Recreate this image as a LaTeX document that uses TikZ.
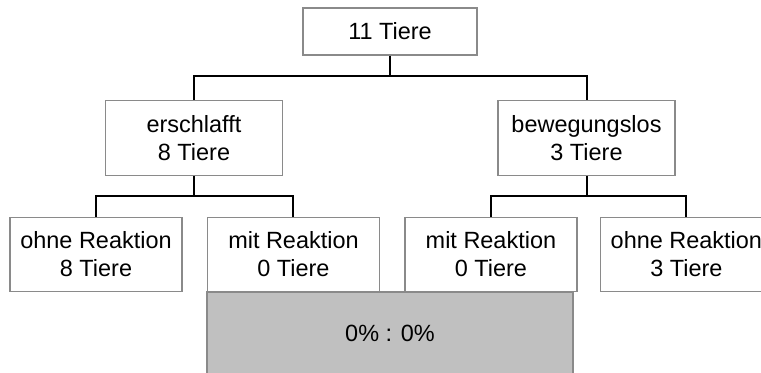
\documentclass[tikz,border=0pt]{standalone}
\usepackage{fontspec}
\setmainfont{Liberation Sans}
\usetikzlibrary{positioning}
\definecolor{boxgray}{HTML}{8A8A8A}
\definecolor{resultgray}{HTML}{C0C0C0}
\tikzset {
  % plain boxes of the tree
  box/.style = {draw=boxgray, line width=1.1pt, fill=white, align=center, inner sep=0pt,
    font=\fontsize{17.6}{21}\selectfont},
  top/.style = {box, minimum width=130.5pt, minimum height=35.25pt},
  mid/.style = {box, minimum width=132.75pt, minimum height=56.25pt},
  leaf/.style = {box, minimum width=129pt, minimum height=55.5pt},
  % shaded result box
  result/.style = {box, fill=resultgray, minimum width=274.5pt, minimum height=61.5pt},
  % connecting lines
  link/.style = {black, line width=1.5pt},
}

\begin{document}
\begin{tikzpicture}[x=0.75pt, y=-0.75pt]
  \clip (0,0) rectangle (761,373);
  \fill[white] (0,0) rectangle (761,373);

  \node[result] (r) at (390,333) {0\% : 0\%};

  \node[top] (t) at (390,31.5) {11 Tiere};
  \node[mid] (m1) at (194,138) {erschlafft\\8 Tiere};
  \node[mid] (m2) at (586.5,138) {bewegungslos\\3 Tiere};

  \node[leaf] (b1) at (96,254.5) {ohne Reaktion\\8 Tiere};
  \node[leaf] (b2) [right=18pt of b1] {mit Reaktion\\0 Tiere};
  \node[leaf] (b3) [right=18pt of b2] {mit Reaktion\\0 Tiere};
  \node[leaf] (b4) [right=16.5pt of b3] {ohne Reaktion\\3 Tiere};

  \coordinate (j0) at (390,76);
  \coordinate (j1) at (194,196);
  \coordinate (j2) at (586.5,196);

  \draw[link] (t) -- (j0);
  \draw[link] (m1.north) |- (j0) -| (m2.north);

  \draw[link] (m1) -- (j1);
  \draw[link] (b1.north) |- (j1) -| (b2.north);

  \draw[link] (m2) -- (j2);
  \draw[link] (b3.north) |- (j2) -| (b4.north);
\end{tikzpicture}
\end{document}
